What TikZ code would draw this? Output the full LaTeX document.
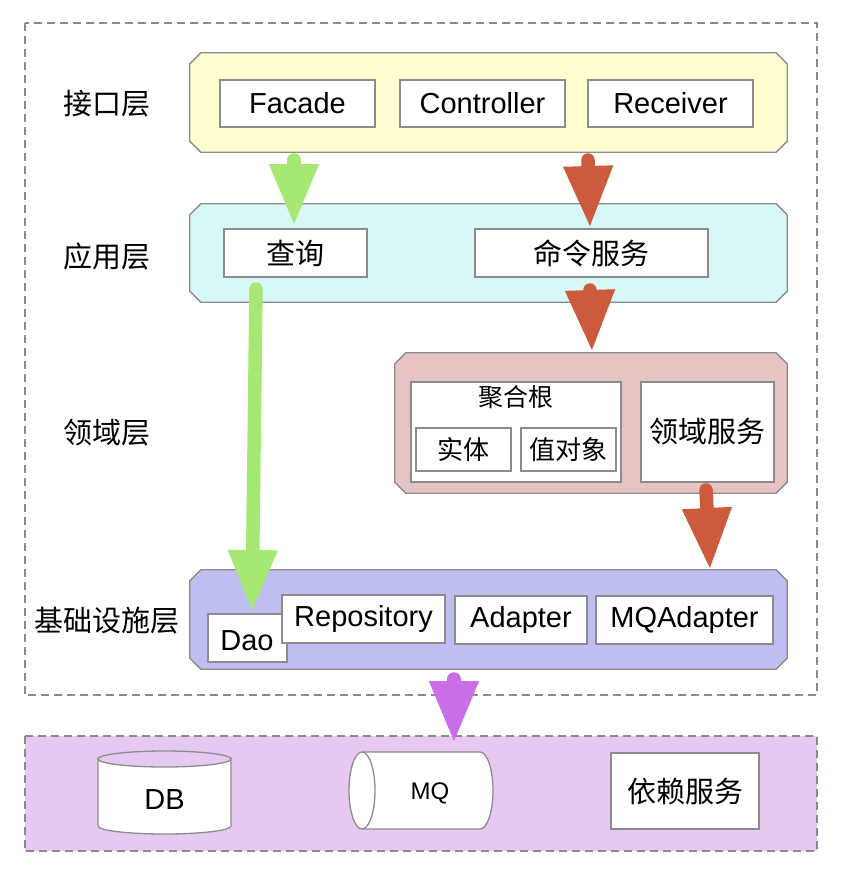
\documentclass[tikz,border=0pt]{standalone}
\usepackage{fontspec}
\setmainfont{Liberation Sans}
\newfontfamily\cjk{Noto Sans CJK SC}
\usetikzlibrary{arrows.meta}
\definecolor{bordergray}{HTML}{8C8C8C}
\definecolor{dashgray}{HTML}{8A8A8A}
\definecolor{ylw}{HTML}{FEFED0}
\definecolor{cyn}{HTML}{D8F8F8}
\definecolor{pnk}{HTML}{E6C4C4}
\definecolor{blu}{HTML}{BEBFF0}
\definecolor{prp}{HTML}{E6C8F0}
\definecolor{grn}{HTML}{A6E874}
\definecolor{rd}{HTML}{CC5A3C}
\definecolor{prpa}{HTML}{C86EE6}
\newcommand\chamfbox[2]{\draw[#1] ([xshift=11pt]#2.north west) -- ([xshift=-11pt]#2.north east) -- ([yshift=-11pt]#2.north east) -- ([yshift=11pt]#2.south east) -- ([xshift=-11pt]#2.south east) -- ([xshift=11pt]#2.south west) -- ([yshift=11pt]#2.south west) -- ([yshift=-11pt]#2.north west) -- cycle;}
\begin{document}
\begin{tikzpicture}[x=1pt,y=-1pt,
  frame/.style={draw=none, inner sep=0pt},
  wbox/.style={draw=bordergray, fill=white, line width=1.3pt, inner sep=0pt, font=\fontsize{29pt}{32pt}\selectfont},
  cbox/.style={wbox, font=\cjk\fontsize{29pt}{32pt}\selectfont},
  lbl/.style={inner sep=0pt, font=\cjk\fontsize{29pt}{32pt}\selectfont},
  fat/.style={line width=13.5pt, line cap=round, -{Triangle[width=46pt,length=62pt]}},
  dsh/.style={draw=dashgray, line width=1.6pt, dash pattern=on 8pt off 5pt}]
\useasboundingbox (0,0) rectangle (842,870);
\fill[white] (0,0) rectangle (842,870);
% outer dashed region and external region
\node[frame, minimum width=792pt, minimum height=672pt] (outer) at (421,359) {};
\draw[dsh] (outer.north west) rectangle (outer.south east);
\node[frame, minimum width=792pt, minimum height=115pt] (ext) at (421,793.5) {};
\draw[dsh, fill=prp] (ext.north west) rectangle (ext.south east);
% layer backgrounds
\node[frame, minimum width=597pt, minimum height=99pt] (L1) at (488.5,102.5) {};
\chamfbox{draw=bordergray, line width=1.3pt, fill=ylw}{L1}
\node[frame, minimum width=597pt, minimum height=98pt] (L2) at (488.5,253) {};
\chamfbox{draw=bordergray, line width=1.3pt, fill=cyn}{L2}
\node[frame, minimum width=392pt, minimum height=140pt] (L3) at (591,423) {};
\chamfbox{draw=bordergray, line width=1.3pt, fill=pnk}{L3}
\node[frame, minimum width=597pt, minimum height=99pt] (L4) at (488.5,619.5) {};
\chamfbox{draw=bordergray, line width=1.3pt, fill=blu}{L4}
% layer labels
\node[lbl] (t1) at (107,104) {接口层};
\node[lbl] (t2) at (107,256) {应用层};
\node[lbl] (t3) at (107,433) {领域层};
\node[lbl] (t4) at (107,621) {基础设施层};
% interface boxes
\node[wbox, minimum width=155pt, minimum height=47pt] (facade) at (297.5,103.5) {Facade};
\node[wbox, minimum width=165pt, minimum height=47pt] (ctrl) at (482.5,103.5) {Controller};
\node[wbox, minimum width=165pt, minimum height=47pt] (recv) at (670.5,103.5) {Receiver};
% application boxes
\node[cbox, minimum width=143pt, minimum height=48pt] (query) at (295.5,253) {查询};
\node[cbox, minimum width=233pt, minimum height=48pt] (cmd) at (591.5,253) {命令服务};
% domain boxes
\node[wbox, minimum width=210pt, minimum height=100pt] (agg) at (516,432) {};
\node[lbl, font=\cjk\fontsize{25pt}{28pt}\selectfont] (aggt) at (516,397) {聚合根};
\node[cbox, minimum width=95pt, minimum height=43pt, font=\cjk\fontsize{26pt}{28pt}\selectfont] (ent) at (463.5,449.5) {实体};
\node[cbox, minimum width=95pt, minimum height=43pt, font=\cjk\fontsize{26pt}{28pt}\selectfont] (vo) at (568.5,449.5) {值对象};
\node[cbox, minimum width=133pt, minimum height=100pt] (dsvc) at (707.5,432) {领域服务};
% infra boxes
\node[wbox, minimum width=79pt, minimum height=48pt] (dao) at (247.5,638) {};
\node[inner sep=0pt, font=\fontsize{29pt}{32pt}\selectfont] (daot) at (247,641) {Dao};
\node[wbox, minimum width=163pt, minimum height=48pt] (repo) at (363.5,619) {Repository};
\node[wbox, minimum width=132pt, minimum height=48pt] (adp) at (521,620) {Adapter};
\node[wbox, minimum width=177pt, minimum height=48pt] (mqa) at (684.5,620) {MQAdapter};
% external: DB cylinder
\node[frame, minimum width=134pt, minimum height=83pt] (db) at (164.5,792.5) {};
\draw[draw=bordergray, line width=1.3pt, fill=white] (98,759) -- (98,826) arc[start angle=180, end angle=360, x radius=66.5pt, y radius=8pt] -- (231,759) arc[start angle=0, end angle=-180, x radius=66.5pt, y radius=8pt] -- cycle;
\draw[draw=bordergray, line width=1.3pt] (98,759) arc[start angle=180, end angle=360, x radius=66.5pt, y radius=-8pt];
\node[inner sep=0pt, font=\fontsize{29pt}{32pt}\selectfont] (dbt) at (164.5,800) {DB};
% external: MQ cylinder
\node[frame, minimum width=144pt, minimum height=77pt] (mq) at (421,790.5) {};
\draw[draw=bordergray, line width=1.3pt, fill=white] (362,752) -- (480,752) arc[start angle=90, end angle=-90, x radius=13pt, y radius=38.5pt] -- (362,829) arc[start angle=270, end angle=90, x radius=13pt, y radius=38.5pt] -- cycle;
\draw[draw=bordergray, line width=1.3pt] (362,752) arc[start angle=90, end angle=-90, x radius=13pt, y radius=38.5pt];
\node[inner sep=0pt, font=\fontsize{24pt}{26pt}\selectfont] (mqt) at (430,793) {MQ};
% external: dependent service
\node[cbox, minimum width=148pt, minimum height=76pt] (dep) at (685,791) {依赖服务};
% arrows
\coordinate (g1s) at (294,160);
\coordinate (g1e) at (294,226);
\draw[fat, grn] (g1s) -- (g1e);
\coordinate (r1s) at (588,160);
\coordinate (r1e) at (590,228);
\draw[fat, rd] (r1s) -- (r1e);
\coordinate (r2s) at (590,290);
\coordinate (r2e) at (592,352);
\draw[fat, rd] (r2s) -- (r2e);
\coordinate (g2s) at (256,289);
\coordinate (g2e) at (252,612);
\draw[fat, grn] (g2s) -- (g2e);
\coordinate (r3s) at (706,490);
\coordinate (r3e) at (710,570);
\draw[fat, rd] (r3s) -- (r3e);
\coordinate (ps) at (454,679);
\coordinate (pe) at (454,743);
\draw[fat, prpa] (ps) -- (pe);
\end{tikzpicture}
\end{document}
